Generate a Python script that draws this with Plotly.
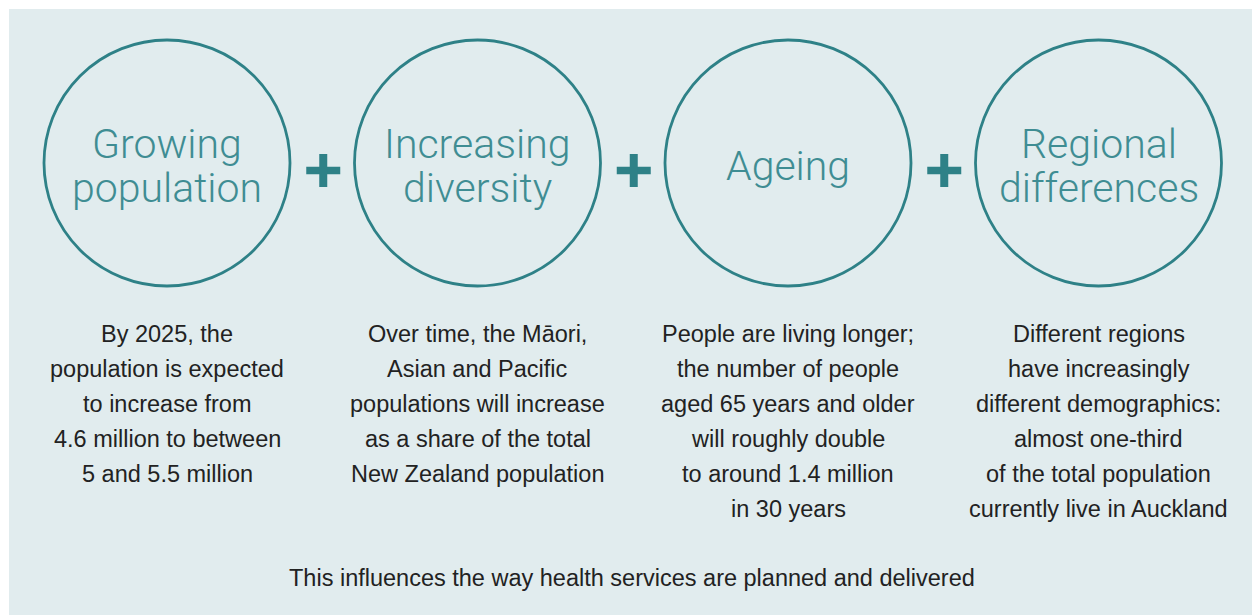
import plotly.graph_objects as go

# ---- data ----
titles = [
    ["Growing", "population"],
    ["Increasing", "diversity"],
    ["Ageing"],
    ["Regional", "differences"],
]
descriptions = [
    ["By 2025, the", "population is expected", "to increase from",
     "4.6 million to between", "5 and 5.5 million"],
    ["Over time, the Māori,", "Asian and Pacific", "populations will increase",
     "as a share of the total", "New Zealand population"],
    ["People are living longer;", "the number of people", "aged 65 years and older",
     "will roughly double", "to around 1.4 million", "in 30 years"],
    ["Different regions", "have increasingly", "different demographics:",
     "almost one-third", "of the total population", "currently live in Auckland"],
]
footer = "This influences the way health services are planned and delivered"

# ---- layout constants ----
W, H = 1252, 615
PANEL = "#e1ecee"
TEAL = "#2e8187"
TITLE_TEAL = "#3f8d93"
TEXT = "#222222"
cx0, dx = 167, 310.5
cy, r = 163, 123
title_font = dict(family="Roboto", size=41, color=TITLE_TEAL, weight=300)
body_font = dict(family="Liberation Sans", size=23.5, color=TEXT)

fig = go.Figure()
shapes = [dict(type="rect", x0=9, y0=9, x1=W + 20, y1=H + 20, fillcolor=PANEL,
               line=dict(width=0), layer="below")]
annotations = []

for i, (tl, desc) in enumerate(zip(titles, descriptions)):
    cx = cx0 + i * dx
    shapes.append(dict(type="circle", x0=cx - r, x1=cx + r, y0=cy - r, y1=cy + r,
                       line=dict(color=TEAL, width=2.8)))
    n = len(tl)
    for j, t in enumerate(tl):
        y = 166 + (j - (n - 1) / 2) * 44
        annotations.append(dict(x=cx, y=y, text=t, showarrow=False,
                                xanchor="center", yanchor="middle", font=title_font))
    for j, t in enumerate(desc):
        annotations.append(dict(x=cx, y=334 + j * 35, text=t, showarrow=False,
                                xanchor="center", yanchor="middle", font=body_font))
    if i < len(titles) - 1:
        px = cx + dx / 2 + 1
        py = 170.5
        shapes.append(dict(type="rect", x0=px - 17, x1=px + 17, y0=py - 3.7, y1=py + 3.7,
                           fillcolor=TEAL, line=dict(width=0)))
        shapes.append(dict(type="rect", x0=px - 4, x1=px + 4, y0=py - 16.5, y1=py + 16.5,
                           fillcolor=TEAL, line=dict(width=0)))

annotations.append(dict(x=632, y=578, text=footer, showarrow=False,
                        xanchor="center", yanchor="middle",
                        font=dict(family="Liberation Sans", size=23.5, color=TEXT)))

fig.update_layout(
    width=W, height=H, margin=dict(l=0, r=0, t=0, b=0),
    paper_bgcolor="white", plot_bgcolor="white",
    xaxis=dict(range=[0, W], visible=False, fixedrange=True),
    yaxis=dict(range=[H, 0], visible=False, fixedrange=True),
    shapes=shapes, annotations=annotations, showlegend=False,
)
fig.write_html(
    "out.html",
    config={"displayModeBar": False},
    post_script="document.body.style.margin='0';document.body.style.overflow='hidden';",
)
